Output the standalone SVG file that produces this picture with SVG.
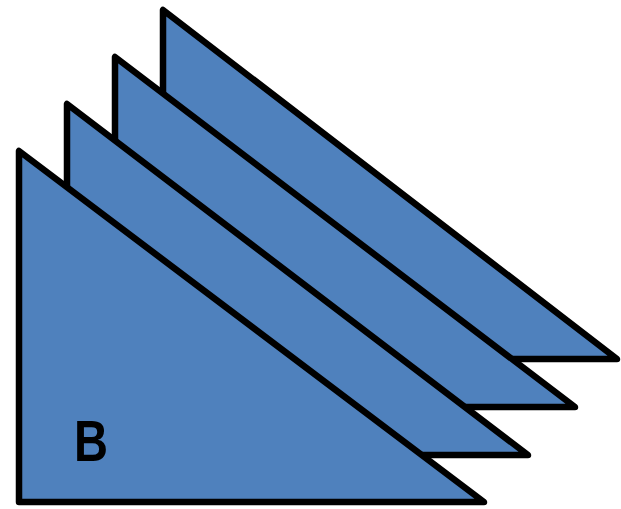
<svg xmlns="http://www.w3.org/2000/svg" width="621" height="509" viewBox="0 0 621 509">
<style>
.tri{fill:#4F81BD;stroke:#000;stroke-width:6.5;stroke-linejoin:round}
.lbl{font-family:"Liberation Sans",Arial,sans-serif;font-weight:bold;font-size:57px;fill:#000}
</style>
<rect width="621" height="509" fill="#fff"/>
<g id="tri4"><polygon class="tri" points="163,10 163,359 617,359"/></g>
<g id="tri3"><polygon class="tri" points="115,57 115,407 575,407"/></g>
<g id="tri2"><polygon class="tri" points="67,104 67,455 528,455"/></g>
<g id="tri1"><polygon class="tri" points="19,151 19,502 484,502"/>
<text class="lbl" x="74" y="461" textLength="34" lengthAdjust="spacingAndGlyphs">B</text></g>
<g id="connectors"/>
</svg>
